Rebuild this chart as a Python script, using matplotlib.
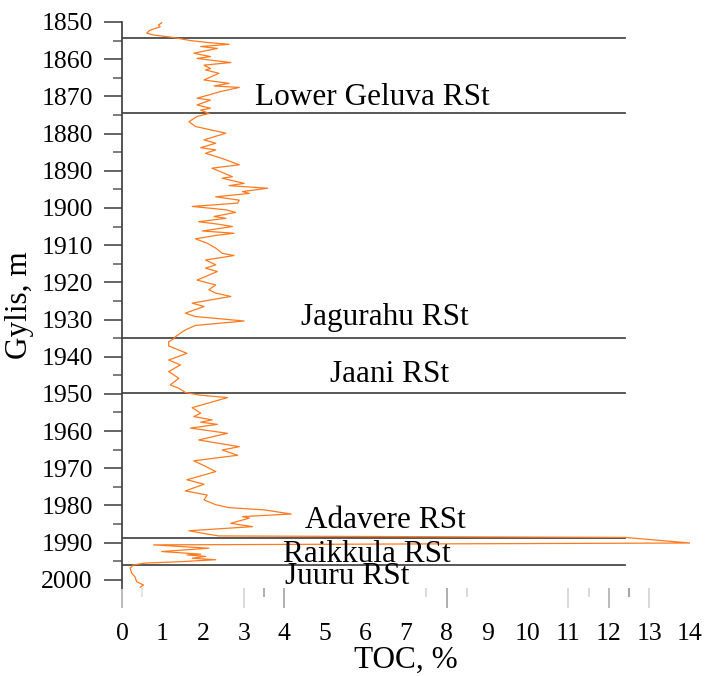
import matplotlib
matplotlib.use("Agg")
import matplotlib.pyplot as plt
from matplotlib.ticker import MultipleLocator

plt.rcParams['font.family'] = ['Liberation Serif', 'DejaVu Serif']

# TOC profile of the Gylis borehole
depth_m = [
    1850.2, 1850.8, 1851.3, 1852.2, 1853.0, 1853.5, 1854.1, 1855.0, 1855.5, 1856.0,
    1856.6, 1857.1, 1858.4, 1859.3, 1859.8, 1860.9, 1861.6, 1862.5, 1862.9, 1863.8,
    1865.6, 1866.5, 1867.2, 1867.6, 1868.7, 1870.5, 1871.0, 1872.3, 1873.2, 1873.7,
    1874.6, 1875.4, 1876.8, 1878.1, 1879.0, 1879.9, 1881.7, 1882.6, 1883.8, 1884.4,
    1885.3, 1886.7, 1888.4, 1889.3, 1891.6, 1892.0, 1893.4, 1894.0, 1894.7, 1895.6,
    1896.1, 1897.0, 1897.9, 1898.7, 1899.6, 1900.5, 1901.2, 1902.3, 1902.8, 1903.7,
    1904.4, 1905.0, 1906.2, 1906.8, 1907.4, 1908.3, 1909.5, 1910.8, 1912.2, 1912.8,
    1914.0, 1915.3, 1916.2, 1917.1, 1919.4, 1920.7, 1922.0, 1922.9, 1923.8, 1925.6,
    1926.5, 1928.3, 1929.2, 1930.4, 1931.6, 1932.8, 1934.6, 1935.2, 1936.0, 1937.1,
    1939.1, 1940.9, 1942.2, 1944.0, 1945.8, 1947.6, 1948.5, 1949.6, 1950.3, 1951.0,
    1953.7, 1955.2, 1956.1, 1957.0, 1957.6, 1958.2, 1959.2, 1960.6, 1962.4, 1964.2,
    1965.1, 1966.5, 1968.0, 1969.5, 1970.9, 1973.1, 1974.3, 1976.1, 1977.2, 1978.5,
    1979.8, 1980.6, 1981.2, 1982.3, 1983.0, 1983.4, 1984.8, 1985.7, 1986.8, 1987.7,
    1988.2, 1988.6, 1990.1, 1990.6, 1991.5, 1992.4, 1993.1, 1993.3, 1993.7, 1994.2,
    1994.6, 1995.1, 1995.5, 1996.0, 1996.9, 1998.2, 1999.2, 2000.5, 2001.4, 2002.0,
]
toc_pct = [
    0.98, 0.90, 0.94, 0.69, 0.61, 0.78, 1.23, 1.69, 2.10, 2.64,
    1.94, 2.35, 1.77, 2.18, 1.85, 2.68, 2.02, 2.18, 2.06, 2.39,
    2.02, 2.64, 2.27, 2.89, 2.43, 1.85, 2.18, 1.85, 2.18, 1.94,
    2.15, 1.85, 1.65, 1.81, 2.18, 2.56, 2.02, 2.31, 1.94, 2.31,
    2.06, 2.47, 2.89, 2.22, 2.72, 2.47, 3.01, 2.64, 3.59, 2.97,
    3.14, 2.31, 2.89, 2.85, 1.73, 2.56, 2.80, 2.27, 2.56, 1.89,
    2.39, 2.72, 1.98, 2.76, 2.31, 1.81, 2.10, 2.31, 2.47, 2.76,
    2.06, 2.31, 2.06, 2.35, 1.85, 2.31, 2.14, 2.31, 2.68, 1.73,
    2.02, 1.56, 1.81, 3.01, 1.81, 1.56, 1.32, 1.27, 1.15, 1.15,
    1.60, 1.15, 1.44, 1.15, 1.40, 1.19, 1.40, 1.56, 1.89, 2.60,
    1.73, 1.94, 1.77, 2.22, 1.94, 2.35, 1.69, 2.60, 1.89, 2.89,
    2.47, 2.85, 1.77, 2.06, 2.31, 1.60, 2.02, 1.56, 2.10, 2.02,
    2.31, 2.64, 3.51, 4.17, 2.97, 3.14, 2.68, 3.22, 1.65, 2.10,
    2.39, 12.4, 14.0, 0.78, 2.14, 0.98, 1.94, 1.60, 2.06, 1.73,
    2.31, 1.49, 0.57, 0.28, 0.20, 0.24, 0.32, 0.36, 0.53, 0.45,
]

# Regional stage boundaries (m) and stage names
boundary_depths = [1854.2, 1874.5, 1935.0, 1949.8, 1988.7, 1995.9]
stage_names = ["Lower Geluva RSt", "Jagurahu RSt", "Jaani RSt",
               "Adavere RSt", "Raikkula RSt", "Juuru RSt"]
label_x = [3.28, 4.42, 5.12, 4.5, 3.98, 4.02]
label_depth = [1872.4, 1931.6, 1946.9, 1986.0, 1995.1, 2001.1]

x_ticks = list(range(0, 15))
y_ticks = list(range(1850, 2001, 10))

# faint rule marks under the TOC scale
rule_long = [0, 3, 4, 8, 11, 12, 13]
rule_long_col = ['#a8a8a8', '#d0d0d0', '#9a9a9a', '#9a9a9a', '#d0d0d0', '#a8a8a8', '#d0d0d0']
rule_short = [0.5, 3.5, 7.5, 8.5, 11.5, 12.5]
rule_short_col = ['#dcdcdc', '#9a9a9a', '#d0d0d0', '#d0d0d0', '#d0d0d0', '#8a8a8a']

W, H = 705, 676
fig = plt.figure(figsize=(W / 100, H / 100), dpi=100)
left, right, top, bottom = 122, 690, 22, 588
ax = fig.add_axes([left / W, 1 - bottom / H, (right - left) / W, (bottom - top) / H])

ax.set_xlim(0, 14)
ax.set_ylim(2002.2, 1850)

ax.plot(toc_pct, depth_m, color='#ff7a1f', lw=0.9, zorder=3)

for d in boundary_depths:
    ax.plot([0, 12.4], [d, d], color='#4a4a4a', lw=1.3, zorder=2)

for name, x, d in zip(stage_names, label_x, label_depth):
    ax.text(x, d, name, fontsize=22.5, ha='left', va='baseline', color='black', zorder=4)

for sp in ['top', 'right', 'bottom']:
    ax.spines[sp].set_visible(False)
ax.spines['left'].set_color('#3a3a3a')
ax.spines['left'].set_linewidth(1.2)

ax.set_yticks(y_ticks)
ax.yaxis.set_minor_locator(MultipleLocator(5))
ax.tick_params(axis='y', which='major', direction='out', length=13, width=1.1,
               color='#3a3a3a', labelsize=18.5, pad=8)
ax.tick_params(axis='y', which='minor', direction='out', length=6.5, width=1.1,
               color='#5a5a5a')

ax.set_xticks(x_ticks)
ax.set_xticklabels([str(t) for t in x_ticks])
ax.tick_params(axis='x', which='major', length=0, labelsize=18.5, pad=25)

xt = ax.get_xaxis_transform()
ax.vlines(rule_long, 0, -20 / (bottom - top), transform=xt, colors=rule_long_col,
          lw=1.1, clip_on=False)
ax.vlines(rule_short, 0, -9 / (bottom - top), transform=xt, colors=rule_short_col,
          lw=1.1, clip_on=False)

ax.set_xlabel("TOC, %", fontsize=22.5, labelpad=1)
ax.set_ylabel("Gylis, m", fontsize=22.5, labelpad=5)

fig.savefig("out.png", dpi=100)
